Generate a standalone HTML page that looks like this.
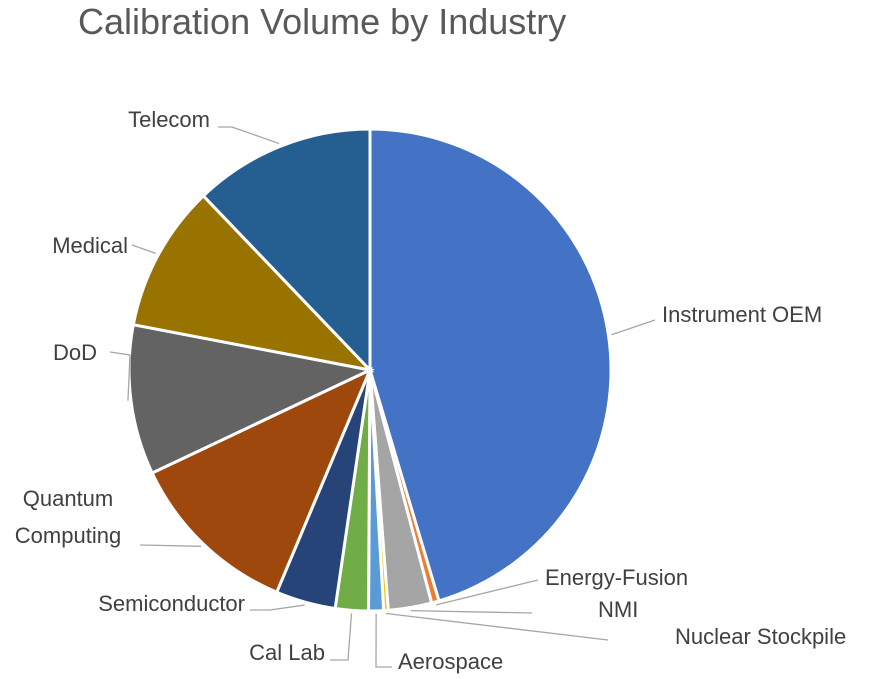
<!DOCTYPE html>
<html><head><meta charset="utf-8"><style>
body{margin:0;background:#fff;}
svg{display:block;font-family:"Liberation Sans",sans-serif;}
</style></head><body>
<svg id="chart" width="886" height="679">
<text x="78" y="34" font-size="36" fill="#595959">Calibration Volume by Industry</text>
<g id="slices"></g><g id="leaders"></g><g id="labels"></g>
</svg>
<script>
const categories=["Instrument OEM","Energy-Fusion","NMI","Nuclear Stockpile","Aerospace","Cal Lab","Semiconductor","Quantum Computing","DoD","Medical","Telecom"];
const values=[45.2,0.5,2.9,0.3,1.0,2.2,4.0,11.6,10.0,9.8,12.1];
const colors=["#4472C4","#ED7D31","#A5A5A5","#FFC000","#5B9BD5","#70AD47","#264478","#9E480E","#636363","#997300","#255E91"];
// label layout: [text anchor x, y, anchor, elbow-x, elbow-y, end-x, end-y]
const layout=[
 [662,322,"start",null,null,655,320],
 [545,585,"start",null,null,538,580],
 [598,617,"start",null,null,532,613],
 [675,644,"start",null,null,608,640],
 [398,669,"start",376,667,392,667],
 [325,660,"end",348,660,330,660],
 [245,611,"end",270,610,250,610],
 [68,null,"middle",null,null,140,545],
 [97,360,"end",130,355,110,352],
 [128,253,"end",null,null,132,245],
 [210,127,"end",232,127,218,127]
];
const cx=370,cy=370,r=241,NS="http://www.w3.org/2000/svg";
const total=values.reduce((a,b)=>a+b,0);
function pt(a,rr){return [cx+rr*Math.sin(a),cy-rr*Math.cos(a)];}
let acc=0;
const sg=document.getElementById('slices'),lg=document.getElementById('leaders'),tg=document.getElementById('labels');
values.forEach((v,i)=>{
 const a0=acc/total*2*Math.PI; acc+=v; const a1=acc/total*2*Math.PI;
 const p0=pt(a0,r),p1=pt(a1,r),large=(a1-a0)>Math.PI?1:0;
 const p=document.createElementNS(NS,'path');
 p.setAttribute('d',`M${cx},${cy}L${p0[0]},${p0[1]}A${r},${r} 0 ${large} 1 ${p1[0]},${p1[1]}Z`);
 p.setAttribute('fill',colors[i]);p.setAttribute('stroke','#fff');p.setAttribute('stroke-width','3');
 
 
 sg.appendChild(p);
 const L=layout[i],m=pt((a0+a1)/2,r+3);
 let pts=`${m[0]},${m[1]} `;
 if(L[3]!==null)pts+=`${L[3]},${L[4]} `;
 pts+=`${L[5]},${L[6]}`;
 const pl=document.createElementNS(NS,'polyline');
 pl.setAttribute('points',pts);pl.setAttribute('fill','none');pl.setAttribute('stroke','#a6a6a6');pl.setAttribute('stroke-width','1.3');
 
 
 lg.appendChild(pl);
 const t=document.createElementNS(NS,'text');
 t.setAttribute('font-size','22');t.setAttribute('fill','#404040');t.setAttribute('text-anchor',L[2]);
 
 
 if(L[1]===null){
  t.innerHTML=`<tspan x="${L[0]}" y="506">Quantum</tspan><tspan x="${L[0]}" y="543">Computing</tspan>`;
 }else{t.setAttribute('x',L[0]);t.setAttribute('y',L[1]);t.textContent=categories[i];}
 tg.appendChild(t);
});
</script>
</body></html>
